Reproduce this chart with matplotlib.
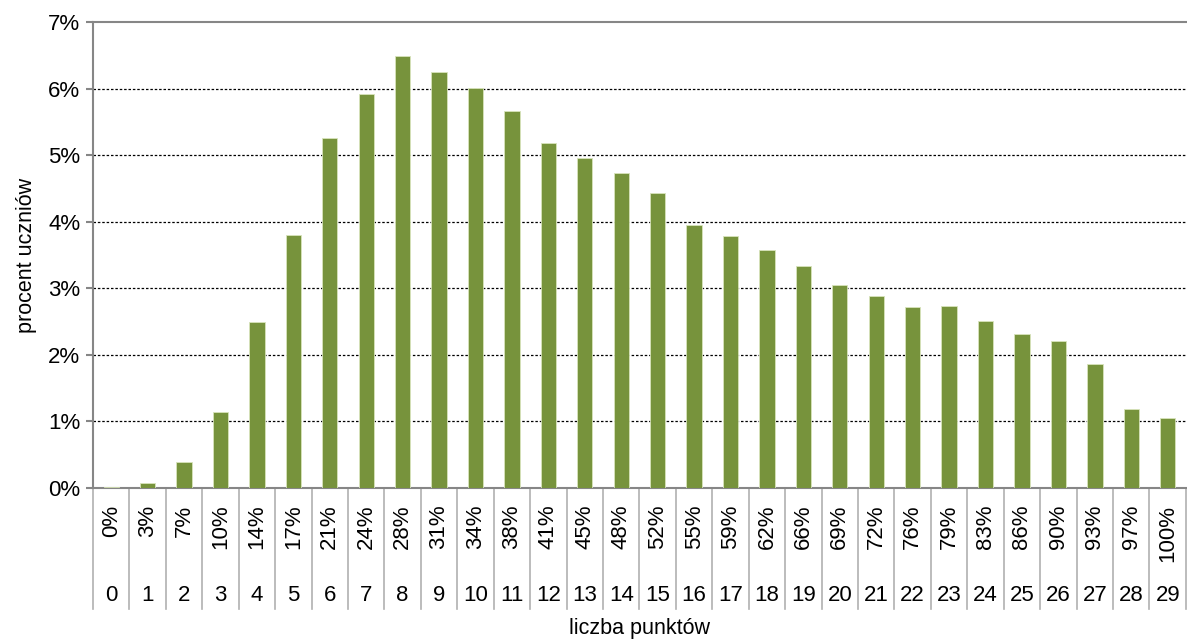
import matplotlib.pyplot as plt
import matplotlib.transforms as mtransforms

points = list(range(30))
pct_labels = ["0%", "3%", "7%", "10%", "14%", "17%", "21%", "24%", "28%", "31%",
              "34%", "38%", "41%", "45%", "48%", "52%", "55%", "59%", "62%", "66%",
              "69%", "72%", "76%", "79%", "83%", "86%", "90%", "93%", "97%", "100%"]
share = [0.02, 0.08, 0.39, 1.14, 2.49, 3.80, 5.26, 5.92, 6.49, 6.25,
         6.01, 5.66, 5.18, 4.95, 4.73, 4.43, 3.95, 3.78, 3.57, 3.33,
         3.05, 2.88, 2.72, 2.73, 2.51, 2.31, 2.21, 1.86, 1.19, 1.05]

plt.rcParams['font.family'] = ['Liberation Sans', 'DejaVu Sans']
grey = "#868686"

fig = plt.figure(figsize=(11.87, 6.41), dpi=100)
ax = fig.add_axes([0.0783, 0.2387, 0.9208, 0.727])

ax.bar(points, share, width=0.42, color="#77933C", edgecolor="#d8e4bc", linewidth=0.6, zorder=3)

ax.set_xlim(-0.5, 29.5)
ax.set_ylim(0, 7)
ax.set_yticks(range(8))
ax.set_yticklabels([f"{v}%" for v in range(8)], fontsize=16)
for v in range(1, 7):
    ax.axhline(v, color="black", linewidth=0.9, linestyle=(0, (2, 1.5)), zorder=1)

for side in ["right"]:
    ax.spines[side].set_visible(False)
for side in ["left", "top", "bottom"]:
    ax.spines[side].set_color(grey)
    ax.spines[side].set_linewidth(1.5)
ax.tick_params(axis="y", length=5, color=grey, width=1.5, pad=4)
ax.set_xticks([])

# two-level category axis
trans = mtransforms.blended_transform_factory(ax.transData, ax.transAxes)
for i in range(31):
    ax.plot([i - 0.5, i - 0.5], [0, -0.26], transform=trans, color="#b0b0b0",
            linewidth=1.2, clip_on=False)
for i, p in enumerate(points):
    ax.text(p, -0.036, pct_labels[i], transform=trans, rotation=90, ha="center",
            va="top", fontsize=16)
    ax.text(p, -0.23, str(p), transform=trans, ha="center", va="center", fontsize=16)

ax.text(0.5, -0.302, "liczba punktów", transform=ax.transAxes, ha="center", va="center",
        fontsize=15.5)
ax.set_ylabel("procent uczniów", fontsize=15.5, labelpad=8)

fig.savefig("out.png", dpi=100)
